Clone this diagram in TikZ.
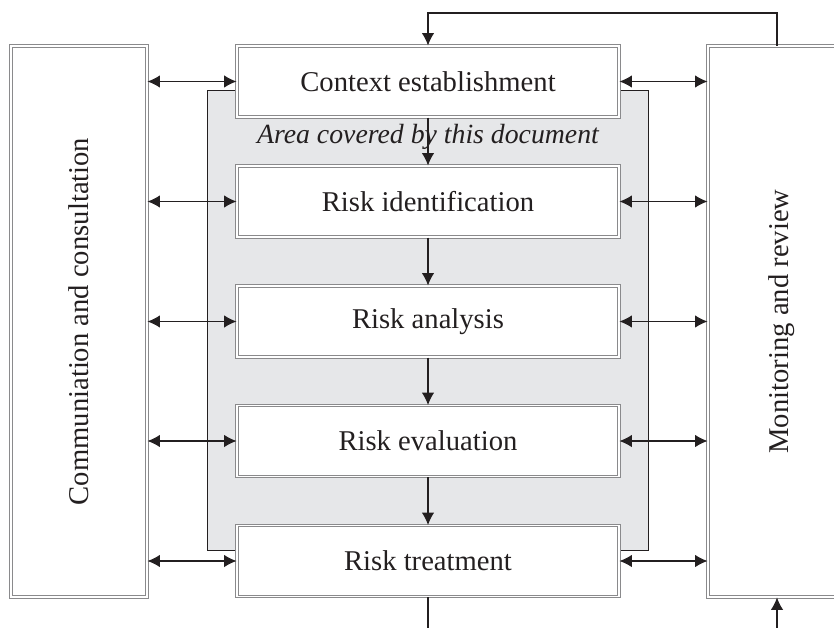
\documentclass[tikz,border=0pt]{standalone}
\usepackage{fontspec}
\setmainfont{Liberation Serif}
\usetikzlibrary{arrows.meta}
\definecolor{Frame}{HTML}{8A8A8C}
\definecolor{Area}{HTML}{E6E7E9}
\definecolor{Ink}{HTML}{231F20}

\tikzset{
  stage/.style={draw=Frame, double=white, double distance=0.7pt, line width=0.6pt,
    fill=white, minimum width=7.64cm, minimum height=1.42cm, text=Ink,
    font=\fontsize{16.3}{19}\selectfont},
  side/.style={stage, minimum height=11.02cm},
  link/.style={Ink, line width=0.6pt},
  tip/.tip={Latex[length=7pt,width=7pt]},
}

\begin{document}
\begin{tikzpicture}[x=0.02cm, y=-0.02cm]
  \useasboundingbox (0,0) rectangle (834,628);
  % shaded area behind the process
  \draw[Ink, line width=0.5pt, fill=Area] (207,90) rectangle (648,550);
  \node[Ink, font=\fontsize{15.8}{19}\selectfont\itshape] (area) at (428,137) {Area covered by this document};

  \node[stage] (ctx) at (428,81.5) {Context establishment};
  \node[stage] (rid) at (428,201.5) {Risk identification};
  \node[stage] (ran) at (428,321.5) {Risk analysis};
  \node[stage] (rev) at (428,441) {Risk evaluation};
  \node[stage] (rtr) at (428,561) {Risk treatment};

  \node[side, minimum width=2.72cm] (com) at (79,321.5) {\rotatebox{90}{Communiation and consultation}};
  \node[side, minimum width=2.96cm] (mon) at (782,321.5) {\rotatebox{90}{Monitoring and review}};

  \coordinate (fb) at (777,13);
  \coordinate (bot) at (0,628);

  % flow down the middle
  \foreach \a/\b in {ctx/rid, rid/ran, ran/rev, rev/rtr}
    \draw[link, -tip] (\a.south) -- (\b.north);

  % both sides talk to every stage
  \foreach \s in {ctx, rid, ran, rev, rtr} {
    \draw[link, tip-tip] (com.east |- \s) -- (\s.west);
    \draw[link, tip-tip] (\s.east) -- (mon.west |- \s);
  }

  % feedback loop
  \draw[link, -tip] (fb |- mon.north) |- (ctx.north |- fb) -- (ctx.north);
  \draw[link] (rtr.south) -- (rtr.south |- bot);
  \draw[link, -tip] (fb |- bot) -- (fb |- mon.south);
\end{tikzpicture}
\end{document}
